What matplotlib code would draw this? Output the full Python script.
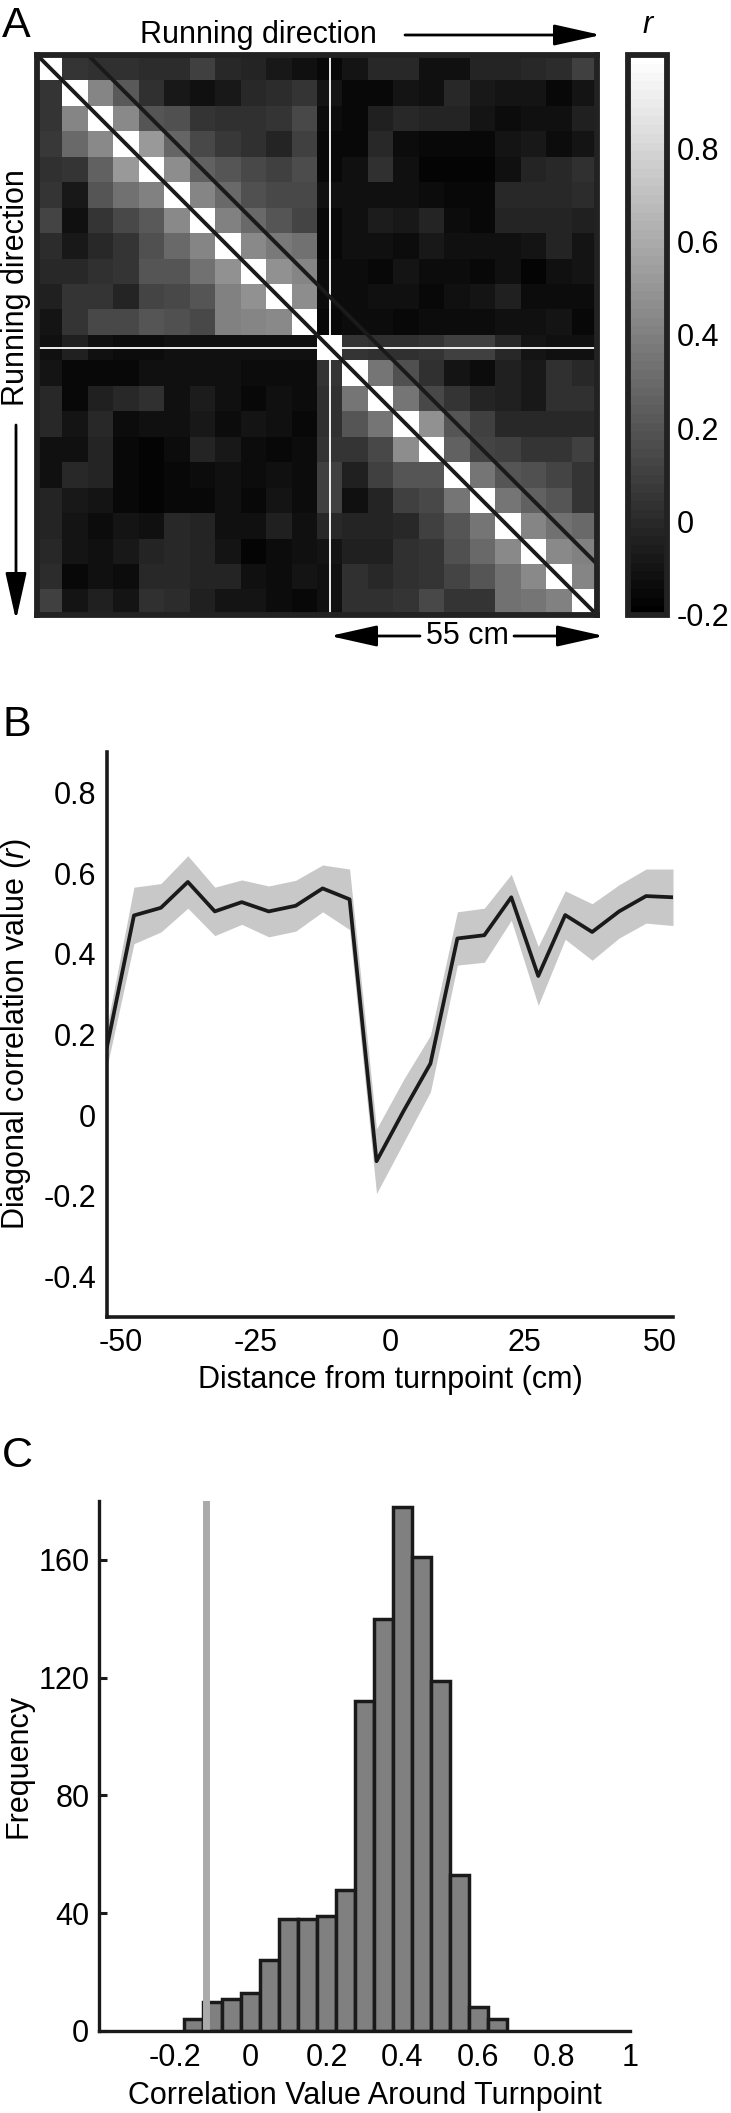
import numpy as np
import matplotlib
matplotlib.use("Agg")
import matplotlib.pyplot as plt

plt.rcParams['font.family'] = ['Liberation Sans', 'DejaVu Sans']
plt.rcParams['axes.unicode_minus'] = False
plt.rcParams['mathtext.fontset'] = 'custom'
plt.rcParams['mathtext.rm'] = 'Liberation Sans'
plt.rcParams['mathtext.it'] = 'Liberation Sans:italic'

# ---- panel A: correlation matrix (r), 22 x 22 spatial bins, turnpoint at bin 11
corr_matrix = [
    [1.00, 0.06, 0.03, 0.04, 0.01, 0.02, 0.10, -0.01, -0.03, -0.08, -0.12, -0.16, -0.09, 0.00, 0.00, -0.12, -0.12, -0.03, -0.03, 0.00, 0.01, 0.11],
    [0.05, 1.00, 0.43, 0.22, 0.03, -0.08, -0.12, -0.08, 0.00, 0.01, 0.06, -0.10, -0.16, -0.16, -0.09, -0.12, -0.01, -0.07, -0.09, -0.09, -0.15, -0.09],
    [0.05, 0.43, 1.00, 0.44, 0.20, 0.18, 0.06, 0.03, 0.04, 0.05, 0.14, -0.14, -0.15, -0.05, 0.00, -0.03, -0.03, -0.10, -0.14, -0.12, -0.12, -0.04],
    [0.07, 0.29, 0.44, 1.00, 0.52, 0.28, 0.14, 0.08, 0.03, -0.03, 0.10, -0.15, -0.15, -0.01, -0.14, -0.15, -0.16, -0.16, -0.09, -0.08, -0.14, -0.09],
    [0.04, 0.06, 0.25, 0.52, 1.00, 0.46, 0.25, 0.20, 0.14, 0.11, 0.16, -0.16, -0.12, 0.04, -0.12, -0.17, -0.17, -0.17, -0.12, -0.03, -0.01, 0.03],
    [0.06, -0.07, 0.21, 0.33, 0.40, 1.00, 0.43, 0.29, 0.18, 0.14, 0.14, -0.12, -0.12, -0.12, -0.12, -0.14, -0.16, -0.16, -0.01, -0.01, -0.01, 0.01],
    [0.12, -0.12, 0.06, 0.15, 0.22, 0.44, 1.00, 0.40, 0.29, 0.21, 0.12, -0.16, -0.12, -0.06, -0.08, -0.03, -0.14, -0.16, -0.03, -0.03, -0.03, -0.05],
    [0.01, -0.08, 0.00, 0.06, 0.18, 0.29, 0.43, 1.00, 0.44, 0.37, 0.33, -0.15, -0.12, -0.12, -0.14, -0.07, -0.12, -0.12, -0.12, -0.09, -0.03, -0.09],
    [-0.01, 0.00, 0.03, 0.05, 0.20, 0.20, 0.33, 0.48, 1.00, 0.48, 0.43, -0.14, -0.13, -0.15, -0.10, -0.14, -0.14, -0.16, -0.12, -0.17, -0.12, -0.10],
    [-0.05, 0.06, 0.06, -0.03, 0.12, 0.14, 0.21, 0.40, 0.48, 1.00, 0.47, -0.14, -0.13, -0.12, -0.12, -0.16, -0.12, -0.10, -0.04, -0.14, -0.13, -0.13],
    [-0.10, 0.06, 0.14, 0.14, 0.21, 0.18, 0.14, 0.40, 0.43, 0.45, 1.00, -0.15, -0.13, -0.13, -0.15, -0.13, -0.13, -0.13, -0.12, -0.12, -0.09, -0.16],
    [-0.12, -0.05, -0.12, -0.13, -0.13, -0.12, -0.12, -0.12, -0.12, -0.12, -0.12, 1.00, 0.06, 0.03, 0.03, 0.06, 0.10, 0.10, -0.01, -0.10, -0.12, -0.12],
    [-0.09, -0.16, -0.15, -0.15, -0.12, -0.12, -0.12, -0.12, -0.13, -0.13, -0.13, 0.06, 1.00, 0.36, 0.18, 0.03, -0.09, -0.14, -0.04, -0.08, 0.03, 0.00],
    [0.00, -0.16, -0.05, -0.01, 0.04, -0.12, -0.06, -0.12, -0.15, -0.12, -0.13, 0.03, 0.36, 1.00, 0.36, 0.14, 0.06, -0.03, -0.05, -0.07, 0.03, 0.03],
    [0.00, -0.09, 0.00, -0.14, -0.12, -0.12, -0.08, -0.14, -0.10, -0.12, -0.15, 0.03, 0.20, 0.35, 1.00, 0.48, 0.20, 0.10, 0.00, 0.00, 0.00, 0.00],
    [-0.12, -0.12, -0.03, -0.15, -0.17, -0.14, -0.03, -0.07, -0.14, -0.16, -0.13, 0.06, 0.06, 0.14, 0.46, 1.00, 0.25, 0.12, 0.10, 0.06, 0.06, 0.10],
    [-0.12, -0.01, -0.03, -0.16, -0.17, -0.16, -0.14, -0.12, -0.14, -0.12, -0.13, 0.10, -0.05, 0.10, 0.21, 0.21, 1.00, 0.36, 0.20, 0.18, 0.12, 0.06],
    [-0.03, -0.07, -0.10, -0.16, -0.17, -0.16, -0.16, -0.12, -0.16, -0.10, -0.13, 0.10, -0.12, -0.03, 0.10, 0.14, 0.36, 1.00, 0.36, 0.25, 0.20, 0.06],
    [-0.03, -0.09, -0.14, -0.09, -0.12, -0.01, -0.03, -0.12, -0.12, -0.04, -0.12, -0.01, -0.03, -0.03, 0.00, 0.10, 0.21, 0.36, 1.00, 0.43, 0.33, 0.29],
    [0.00, -0.09, -0.12, -0.08, -0.03, -0.01, -0.03, -0.09, -0.17, -0.14, -0.12, -0.10, -0.05, -0.04, 0.03, 0.06, 0.18, 0.29, 0.44, 1.00, 0.44, 0.40],
    [0.01, -0.15, -0.12, -0.14, -0.01, -0.01, -0.03, -0.03, -0.12, -0.13, -0.09, -0.12, 0.03, -0.01, 0.03, 0.06, 0.12, 0.21, 0.33, 0.45, 1.00, 0.43],
    [0.11, -0.09, -0.04, -0.09, 0.03, 0.01, -0.05, -0.09, -0.10, -0.13, -0.16, -0.12, 0.03, 0.03, 0.06, 0.14, 0.06, 0.06, 0.33, 0.36, 0.40, 1.00],
]
turn_bin = 11
cbar_ticks = [-0.2, 0, 0.2, 0.4, 0.6, 0.8]
cbar_labels = ["-0.2", "0", "0.2", "0.4", "0.6", "0.8"]

# ---- panel B: diagonal correlation vs distance from turnpoint
dist_cm = [-52.5, -47.5, -42.5, -37.5, -32.5, -27.5, -22.5, -17.5, -12.5, -7.5, -2.5,
           2.5, 7.5, 12.5, 17.5, 22.5, 27.5, 32.5, 37.5, 42.5, 47.5, 52.5]
diag_r = [0.17, 0.495, 0.514, 0.578, 0.505, 0.528, 0.505, 0.519, 0.562, 0.535, -0.114,
          0.01, 0.128, 0.438, 0.446, 0.54, 0.345, 0.496, 0.454, 0.505, 0.543, 0.54]
diag_sem = [0.05, 0.07, 0.06, 0.065, 0.06, 0.055, 0.063, 0.063, 0.058, 0.075, 0.08,
            0.078, 0.07, 0.066, 0.067, 0.057, 0.073, 0.06, 0.07, 0.066, 0.067, 0.07]
b_xticks = [-50, -25, 0, 25, 50]
b_yticks = [-0.4, -0.2, 0, 0.2, 0.4, 0.6, 0.8]
b_ylabels = ["-0.4", "-0.2", "0", "0.2", "0.4", "0.6", "0.8"]

# ---- panel C: histogram of correlation values around turnpoint
hist_centers = [-0.15, -0.10, -0.05, 0.00, 0.05, 0.10, 0.15, 0.20, 0.25, 0.30, 0.35,
                0.40, 0.45, 0.50, 0.55, 0.60, 0.65]
hist_counts = [4, 10, 11, 13, 24, 38, 38, 39, 48, 112, 140, 178, 161, 119, 53, 8, 4]
turnpoint_r = -0.117
c_xticks = [-0.2, 0, 0.2, 0.4, 0.6, 0.8, 1]
c_xlabels = ["-0.2", "0", "0.2", "0.4", "0.6", "0.8", "1"]
c_yticks = [0, 40, 80, 120, 160]

W, H = 731, 2113
FS = 22
DARK = '#1a1a1a'


def box(x0, y0, x1, y1):
    # pixel box (y from top) -> figure fraction rect
    return [x0 / W, (H - y1) / H, (x1 - x0) / W, (y1 - y0) / H]


fig = plt.figure(figsize=(W / 100, H / 100), dpi=100)

# ---------------- panel A
axA = fig.add_axes(box(37, 55, 597, 615))
cmap = plt.get_cmap('gray', 64)
im = axA.imshow(np.array(corr_matrix), cmap=cmap, vmin=-0.2, vmax=1.0,
                aspect='auto', interpolation='nearest')
n = len(corr_matrix)
axA.axvline(turn_bin, color='white', lw=1.3)
axA.axhline(turn_bin, color='white', lw=1.3)
axA.plot([-0.5, n - 0.5], [-0.5, n - 0.5], color=DARK, lw=2.8, solid_capstyle='butt')
axA.plot([1.5, n - 0.5], [-0.5, n - 2.5], color=DARK, lw=2.8, solid_capstyle='butt')
axA.set_xlim(-0.5, n - 0.5)
axA.set_ylim(n - 0.5, -0.5)
axA.set_xticks([])
axA.set_yticks([])
for s in axA.spines.values():
    s.set_linewidth(4.2)
    s.set_color('#222222')

cax = fig.add_axes(box(628, 55, 667, 615))
cb = fig.colorbar(im, cax=cax)
cb.set_ticks(cbar_ticks)
cb.set_ticklabels(cbar_labels)
cb.ax.tick_params(length=0, labelsize=FS, pad=7)
cb.outline.set_linewidth(4.2)
cb.outline.set_edgecolor('#222222')

# ---------------- panel B
axB = fig.add_axes(box(107, 752, 673, 1317))
axB.fill_between(dist_cm, np.array(diag_r) - np.array(diag_sem),
                 np.array(diag_r) + np.array(diag_sem), color='#c8c8c8', lw=0)
axB.plot(dist_cm, diag_r, color=DARK, lw=2.7)
axB.set_xlim(-52.5, 52.5)
axB.set_ylim(-0.5, 0.9)
axB.set_xticks(b_xticks)
axB.set_yticks(b_yticks)
axB.set_yticklabels(b_ylabels)
axB.tick_params(length=0, labelsize=FS)
axB.tick_params(axis='y', pad=8)
axB.tick_params(axis='x', pad=8)
for side in ['top', 'right']:
    axB.spines[side].set_visible(False)
for side in ['left', 'bottom']:
    axB.spines[side].set_linewidth(2.6)
    axB.spines[side].set_color(DARK)
axB.set_xlabel('Distance from turnpoint (cm)', fontsize=FS)
axB.xaxis.set_label_coords(0.5, -0.085)
axB.set_ylabel('Diagonal correlation value ($\\mathit{r}$)', fontsize=FS)
axB.yaxis.set_label_coords(-0.131, 0.5)

# ---------------- panel C
axC = fig.add_axes(box(99, 1501, 630, 2031))
axC.bar(hist_centers, hist_counts, width=0.05, color='#808080',
        edgecolor=DARK, linewidth=2.5, zorder=2)
axC.axvline(turnpoint_r, color='#aaaaaa', lw=5, zorder=3)
axC.set_xlim(-0.4, 1.0)
axC.set_ylim(0, 180)
axC.set_xticks(c_xticks)
axC.set_xticklabels(c_xlabels)
axC.set_yticks(c_yticks)
axC.tick_params(axis='x', length=0, labelsize=FS, pad=9)
axC.tick_params(axis='y', direction='in', length=6, width=2.2, color=DARK,
                labelsize=FS, pad=7)
for side in ['top', 'right']:
    axC.spines[side].set_visible(False)
for side in ['left', 'bottom']:
    axC.spines[side].set_linewidth(2.4)
    axC.spines[side].set_color(DARK)
    axC.spines[side].set_zorder(4)
axC.set_xlabel('Correlation Value Around Turnpoint', fontsize=FS)
axC.xaxis.set_label_coords(0.5, -0.094)
axC.set_ylabel('Frequency', fontsize=FS)
axC.yaxis.set_label_coords(-0.124, 0.5)

# ---------------- overlay for panel letters, direction arrows
ov = fig.add_axes([0, 0, 1, 1], zorder=10)
ov.set_xlim(0, W)
ov.set_ylim(H, 0)
ov.axis('off')
ov.patch.set_visible(False)

for letter, yb in [('A', 37), ('B', 736), ('C', 1467)]:
    ov.text(2, yb, letter, fontsize=31, va='baseline', ha='left')

arrow = dict(arrowstyle='-|>,head_length=2.9,head_width=0.65', lw=2, color='black',
             shrinkA=0, shrinkB=0, mutation_scale=10)
ov.text(140, 43, 'Running direction', fontsize=FS, va='baseline', ha='left')
ov.annotate('', xy=(601, 35), xytext=(405, 35), arrowprops=arrow)
ov.text(648, 33, 'r', fontsize=FS, style='italic', va='baseline', ha='center')

ov.text(16, 288, 'Running direction', fontsize=FS, rotation=90, va='center', ha='center')
ov.annotate('', xy=(16, 620), xytext=(16, 425), arrowprops=arrow)

ov.text(467, 636, '55 cm', fontsize=FS, va='center', ha='center')
ov.annotate('', xy=(330, 636), xytext=(420, 636), arrowprops=arrow)
ov.annotate('', xy=(604, 636), xytext=(514, 636), arrowprops=arrow)

fig.savefig('out.png', dpi=100)
